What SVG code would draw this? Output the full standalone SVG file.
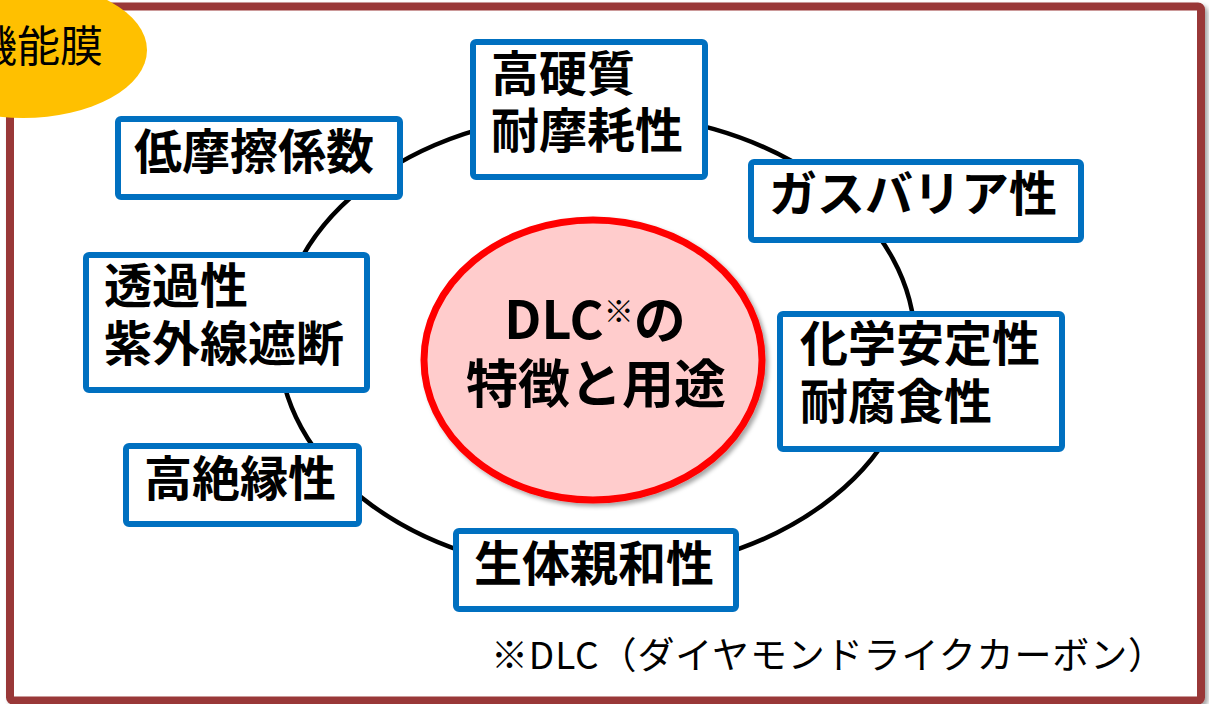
<svg xmlns="http://www.w3.org/2000/svg" width="1209" height="704" viewBox="0 0 1209 704">
<defs>
<filter id="sh" x="-10%" y="-10%" width="130%" height="130%">
<feDropShadow dx="3" dy="3" stdDeviation="2" flood-color="#000" flood-opacity="0.35"/>
</filter>
<style>
.box{fill:#fff;stroke:#0070C0;stroke-width:6}
.lbl{font-family:"Noto Sans CJK JP","Noto Sans",sans-serif;font-weight:bold;font-size:48px;fill:#000}
.ring{fill:none;stroke:#000;stroke-width:4.5}
</style>
</defs>
<rect width="1209" height="704" fill="#fff"/>
<rect id="frame" x="10" y="6.5" width="1191" height="694" rx="3" fill="#fff" stroke="#993737" stroke-width="8" filter="url(#sh)"/>
<g id="connectors">
<ellipse class="ring" cx="597" cy="343" rx="318" ry="230"/>
</g>
<g id="center">
<ellipse cx="593" cy="360" rx="169" ry="140" fill="#FFCCCC" stroke="#FF0000" stroke-width="7" filter="url(#sh)"/>
<text class="lbl" style="font-size:52px" text-anchor="middle"><tspan x="595" y="339">DLC<tspan style="font-size:30px" dy="-17">※</tspan><tspan dy="17">の</tspan></tspan><tspan x="596" y="403">特徴と用途</tspan></text>
</g>
<g id="n1">
<rect class="box" x="473" y="42" width="232" height="135" rx="3"/>
<text class="lbl"><tspan x="491" y="91">高硬質</tspan><tspan x="491" y="148">耐摩耗性</tspan></text>
</g>
<g id="n2">
<rect class="box" x="118" y="119" width="282" height="78" rx="3"/>
<text class="lbl" x="134" y="169">低摩擦係数</text>
</g>
<g id="n3">
<rect class="box" x="751" y="162" width="330" height="78" rx="3"/>
<text class="lbl" x="769" y="211">ガスバリア性</text>
</g>
<g id="n4">
<rect class="box" x="86" y="255" width="281" height="135" rx="3"/>
<text class="lbl"><tspan x="104" y="303">透過性</tspan><tspan x="104" y="361">紫外線遮断</tspan></text>
</g>
<g id="n5">
<rect class="box" x="780" y="314" width="282" height="135" rx="3"/>
<text class="lbl"><tspan x="800" y="361">化学安定性</tspan><tspan x="800" y="419">耐腐食性</tspan></text>
</g>
<g id="n6">
<rect class="box" x="126" y="446" width="233" height="78" rx="3"/>
<text class="lbl" x="144" y="496">高絶縁性</text>
</g>
<g id="n7">
<rect class="box" x="456" y="531" width="280" height="78" rx="3"/>
<text class="lbl" x="474" y="581">生体親和性</text>
</g>
<text id="note" x="491" y="669" font-family="Noto Sans CJK JP, Noto Sans, sans-serif" font-size="37" fill="#000" textLength="674" lengthAdjust="spacing">※DLC（ダイヤモンドライクカーボン）</text>
<g id="badge">
<ellipse cx="23" cy="50" rx="124" ry="68" fill="#FFC000"/>
<text x="103" y="62" text-anchor="end" font-family="Noto Sans CJK JP, Noto Sans, sans-serif" font-size="43" fill="#000">機能膜</text>
</g>
</svg>
